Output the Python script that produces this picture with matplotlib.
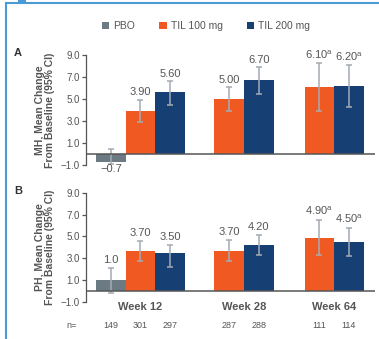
import numpy as np
import matplotlib
matplotlib.use("Agg")
import matplotlib.pyplot as plt
from matplotlib.patches import Patch
from matplotlib.lines import Line2D

plt.rcParams['font.family'] = ['Liberation Sans', 'DejaVu Sans']
plt.rcParams['mathtext.fontset'] = 'custom'
plt.rcParams['mathtext.rm'] = 'Liberation Sans'

# donnees
semaines = ['Week 12', 'Week 28', 'Week 64']
groupes = ['PBO', 'TIL 100 mg', 'TIL 200 mg']
pos_barres = [0, 1, 2, 4, 5, 7.05, 8.05]
groupe_barres = ['PBO', 'TIL 100 mg', 'TIL 200 mg', 'TIL 100 mg', 'TIL 200 mg', 'TIL 100 mg', 'TIL 200 mg']
centres_semaines = [1, 4.5, 7.55]
effectifs = [149, 301, 297, 287, 288, 111, 114]

mh_moy = [-0.7, 3.90, 5.60, 5.00, 6.70, 6.10, 6.20]
mh_bas = [-0.9, 2.94, 4.45, 3.90, 5.45, 3.90, 4.27]
mh_haut = [0.45, 4.90, 6.60, 6.05, 7.87, 8.24, 8.05]
mh_etiq = ['\u22120.7', '3.90', '5.60', '5.00', '6.70', '6.10$^{\\mathrm{a}}$', '6.20$^{\\mathrm{a}}$']

ph_moy = [1.0, 3.70, 3.50, 3.70, 4.20, 4.90, 4.50]
ph_bas = [-0.15, 2.79, 2.18, 2.79, 3.30, 3.30, 3.22]
ph_haut = [2.09, 4.58, 4.25, 4.67, 5.13, 6.49, 5.76]
ph_etiq = ['1.0', '3.70', '3.50', '3.70', '4.20', '4.90$^{\\mathrm{a}}$', '4.50$^{\\mathrm{a}}$']

couleurs = {'PBO': '#6c7a84', 'TIL 100 mg': '#f05a22', 'TIL 200 mg': '#163f74'}
gris = '#555555'
W, H = 379, 339

fig = plt.figure(figsize=(W / 100, H / 100), dpi=100)


def panneau(bas_px, haut_px, moy, bas, haut, etiq, ylabel, lettre):
    ax = fig.add_axes([86 / W, 1 - bas_px / H, (375 - 86) / W, (bas_px - haut_px) / H])
    cols = [couleurs[g] for g in groupe_barres]
    ax.bar(pos_barres, moy, width=1.0, color=cols, zorder=2)
    moy_a = np.array(moy)
    err = [moy_a - np.array(bas), np.array(haut) - moy_a]
    ax.errorbar(pos_barres, moy, yerr=err, fmt='none', ecolor='#a3abb3',
                elinewidth=1.1, capsize=2.5, capthick=1.1, zorder=3)
    for x, m, h, t in zip(pos_barres, moy, haut, etiq):
        if m < 0:
            ax.annotate(t, (x, m), xytext=(0, -2), textcoords='offset points',
                        ha='center', va='top', fontsize=8, color=gris)
        else:
            ax.annotate(t, (x, h), xytext=(0, 2), textcoords='offset points',
                        ha='center', va='bottom', fontsize=8, color=gris)
    ax.set_ylim(-1, 9)
    ax.set_xlim(-0.84, 8.93)
    ax.set_yticks([-1, 1, 3, 5, 7, 9])
    ax.set_yticklabels(['\u22121.0', '1.0', '3.0', '5.0', '7.0', '9.0'])
    ax.axhline(0, color=gris, lw=1.1, zorder=4)
    for s in ['top', 'right', 'bottom']:
        ax.spines[s].set_visible(False)
    ax.spines['left'].set_color(gris)
    ax.spines['left'].set_linewidth(0.9)
    ax.set_xticks([])
    ax.tick_params(axis='y', length=3, width=0.9, color=gris, labelcolor=gris,
                   labelsize=7, pad=1.5)
    centre = 1 - (bas_px + haut_px) / 2 / H
    fig.text(45 / W, centre, ylabel, rotation=90, ha='center', va='center',
             fontsize=7.5, fontweight='bold', color=gris, linespacing=1.1)
    fig.text(18 / W, 1 - (haut_px - 2) / H, lettre, ha='center', va='center',
             fontsize=8, fontweight='bold', color='#333333')
    return ax


ax_a = panneau(165, 55, mh_moy, mh_bas, mh_haut, mh_etiq,
               'MH, Mean Change\nFrom Baseline (95% CI)', 'A')
ax_b = panneau(302, 192.7, ph_moy, ph_bas, ph_haut, ph_etiq,
               'PH, Mean Change\nFrom Baseline (95% CI)', 'B')

# semaines et effectifs sous le panneau B
tr = ax_b.get_xaxis_transform()
for c, s in zip(centres_semaines, semaines):
    ax_b.text(c, -(307 - 302) / 109.3, s, transform=tr, ha='center', va='center',
              fontsize=8, fontweight='bold', color=gris)
for x, n in zip(pos_barres, effectifs):
    ax_b.text(x, -(325 - 302) / 109.3, str(n), transform=tr, ha='center',
              va='center', fontsize=6.5, color=gris)
fig.text(72 / W, 1 - 325 / H, 'n=', ha='center', va='center', fontsize=6.5, color=gris)

# legende
poignees = [Patch(facecolor=couleurs[g], edgecolor='none') for g in groupes]
fig.legend(poignees, groupes, loc='center', bbox_to_anchor=(206 / W, 1 - 26 / H),
           ncol=3, frameon=False, fontsize=7.5, handlelength=0.7, handleheight=0.7,
           handletextpad=0.4, columnspacing=2.3, labelcolor=gris)

# cadre bleu
bleu = '#4a9ad6'
fig.add_artist(Line2D([5.5 / W, 5.5 / W], [0, 1 - 3 / H], color=bleu, lw=1.5))
fig.add_artist(Line2D([5.5 / W, 1], [1 - 3 / H, 1 - 3 / H], color=bleu, lw=1.5))
fig.add_artist(Line2D([19 / W, 25 / W], [1 - 0.5 / H, 1 - 0.5 / H], color=bleu, lw=1.5))

fig.savefig('out.png', dpi=100)
